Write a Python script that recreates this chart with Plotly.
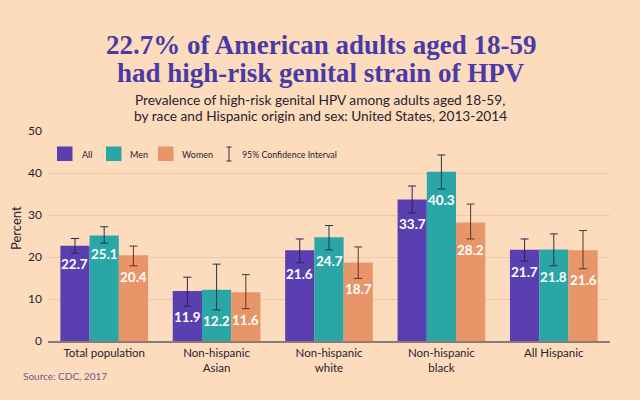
import plotly.graph_objects as go

categories = ["Total population", "Non-hispanic<br>Asian", "Non-hispanic<br>white", "Non-hispanic<br>black", "All Hispanic"]
series_names = ["All", "Men", "Women"]
values_all = [22.7, 11.9, 21.6, 33.7, 21.7]
values_men = [25.1, 12.2, 24.7, 40.3, 21.8]
values_women = [20.4, 11.6, 18.7, 28.2, 21.6]
ci_low_all = [20.9, 8.3, 18.6, 30.5, 19.0]
ci_high_all = [24.4, 15.2, 24.3, 36.9, 24.3]
ci_low_men = [23.3, 7.4, 21.7, 36.2, 17.9]
ci_high_men = [27.2, 18.3, 27.5, 44.3, 25.5]
ci_low_women = [17.9, 7.7, 14.9, 24.3, 17.2]
ci_high_women = [22.6, 15.8, 22.4, 32.6, 26.3]

colors = ["#5a3fb0", "#2ba6a6", "#e8956a"]
err_colors = ["#2e2350", "#1f3a44", "#5e3230"]
BG = "#fcdcbd"
FONT = "Lato"
TXT = "#2a2030"

# plot area in pixels (for positioning the decorations)
L, R, T, B = 48, 30, 131, 59
PW, PH = 640 - L - R, 400 - T - B


def px(xp):
    return (xp - L) / PW


def py(yp):
    return (400 - B - yp) / PH


BARGAP = 0.22
bw = (1 - BARGAP) / 3

fig = go.Figure()
series = [
    (values_all, ci_low_all, ci_high_all),
    (values_men, ci_low_men, ci_high_men),
    (values_women, ci_low_women, ci_high_women),
]
offsets = [-1, 0, 1]
for i, (name, (vals, lo, hi)) in enumerate(zip(series_names, series)):
    fig.add_trace(go.Bar(
        x=categories, y=vals, name=name, marker_color=colors[i],
        marker_line_width=0, offsetgroup=str(i),
        error_y=dict(type="data", symmetric=False,
                     array=[h - v for h, v in zip(hi, vals)],
                     arrayminus=[v - l for v, l in zip(vals, lo)],
                     color=err_colors[i], thickness=1, width=4),
    ))

# value labels just below the lower CI bound
for i, (vals, lo, hi) in enumerate(series):
    for j, c in enumerate(categories):
        fig.add_annotation(
            x=j + offsets[i] * bw, y=lo[j], xref="x", yref="y",
            text=f"<b>{vals[j]}</b>", showarrow=False, yanchor="top", yshift=-1,
            font=dict(family=FONT, size=13.5, color="white"),
        )

# custom legend
leg_items = [("All", 57, 80), ("Men", 106, 128), ("Women", 158, 180)]
for (name, sx, tx), col in zip(leg_items, colors):
    fig.add_shape(type="rect", xref="paper", yref="paper",
                  x0=px(sx), x1=px(sx + 15.5), y0=py(161), y1=py(146.5),
                  fillcolor=col, line_width=0)
    fig.add_annotation(text=name, xref="paper", yref="paper", x=px(tx), y=py(154),
                       xanchor="left", yanchor="middle", showarrow=False,
                       font=dict(family=FONT, size=9, color=TXT))
ci_x = 229
for seg in [(ci_x, 147, ci_x, 161), (ci_x - 2.5, 147, ci_x + 2.5, 147), (ci_x - 2.5, 161, ci_x + 2.5, 161)]:
    fig.add_shape(type="line", xref="paper", yref="paper",
                  x0=px(seg[0]), y0=py(seg[1]), x1=px(seg[2]), y1=py(seg[3]),
                  line=dict(color="#3a2838", width=1))
fig.add_annotation(text="95% Confidence Interval", xref="paper", yref="paper", x=px(239.5), y=py(154),
                   xanchor="left", yanchor="middle", showarrow=False,
                   font=dict(family=FONT, size=8.8, color=TXT))

# titles
title_font = dict(family="Liberation Serif", size=27, color="#4a3aa6", weight="bold")
fig.add_annotation(text="22.7% of American adults aged 18-59", xref="paper", yref="paper",
                   x=px(321), y=py(45), xanchor="center", yanchor="middle", showarrow=False, font=title_font)
fig.add_annotation(text="had high-risk genital strain of HPV", xref="paper", yref="paper",
                   x=px(321), y=py(73), xanchor="center", yanchor="middle", showarrow=False, font=title_font)
sub_font = dict(family=FONT, size=13.7, color=TXT)
fig.add_annotation(text="Prevalence of high-risk genital HPV among adults aged 18-59,", xref="paper", yref="paper",
                   x=px(320), y=py(99.5), xanchor="center", yanchor="middle", showarrow=False, font=sub_font)
fig.add_annotation(text="by race and Hispanic origin and sex: United States, 2013-2014", xref="paper", yref="paper",
                   x=px(320), y=py(115.5), xanchor="center", yanchor="middle", showarrow=False, font=sub_font)

fig.add_annotation(text="Percent", xref="paper", yref="paper", x=px(16), y=py(228), textangle=-90,
                   xanchor="center", yanchor="middle", showarrow=False,
                   font=dict(family=FONT, size=13, color=TXT))
fig.add_annotation(text="Source: CDC, 2017", xref="paper", yref="paper", x=px(21), y=py(376),
                   xanchor="left", yanchor="middle", showarrow=False,
                   font=dict(family=FONT, size=10, color="#6e5a8a"))

fig.update_layout(
    width=640, height=400,
    paper_bgcolor=BG, plot_bgcolor=BG,
    margin=dict(l=L, r=R, t=T, b=B, autoexpand=False),
    barmode="group", bargap=BARGAP, bargroupgap=0,
    showlegend=False,
    font=dict(family=FONT, size=12, color=TXT),
)

fig.update_xaxes(showgrid=False, showline=True, linecolor="#8a7a78", linewidth=1.5, automargin=False,
                 tickfont=dict(family=FONT, size=11.5, color=TXT), ticks="")
fig.update_yaxes(range=[0, 50], dtick=10, showgrid=True, gridcolor="#ecc9a8", gridwidth=1,
                 zeroline=False, automargin=False, ticklabelstandoff=5,
                 tickfont=dict(family=FONT, size=12, color=TXT))

fig.write_html("out.html", config={"displayModeBar": False},
               post_script="document.body.style.margin='0';document.body.style.background='%s';" % BG)
